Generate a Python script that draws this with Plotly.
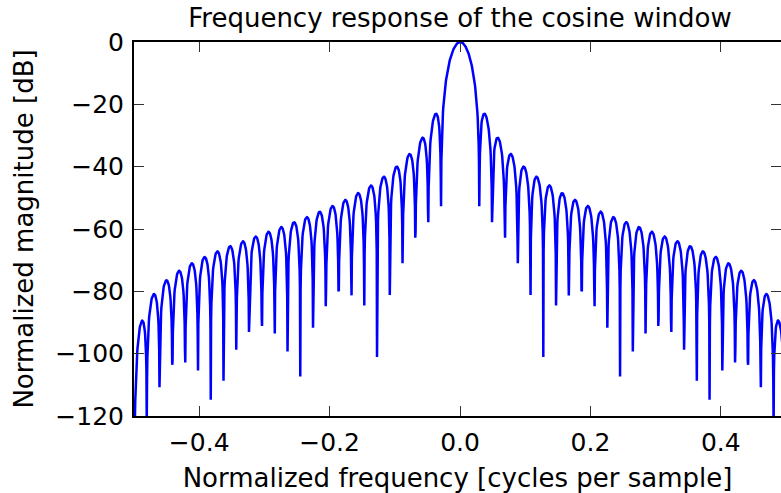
import numpy as np
import plotly.graph_objects as go

# Data: 51-tap cosine window, response via 2048-point FFT (as in the original figure)
n_taps = 51
n_fft = 2048
window_taps = np.sin(np.pi * (np.arange(n_taps) + 0.5) / n_taps)
A = np.fft.fft(window_taps, n_fft) / (n_taps / 2.0)
mag = np.abs(np.fft.fftshift(A / np.abs(A).max()))
response_db = 20 * np.log10(np.maximum(mag, 1e-12))
freq = np.linspace(-0.5, 0.5, n_fft)

x_tick_vals = [-0.4, -0.2, 0.0, 0.2, 0.4]
x_tick_text = ["\u22120.4", "\u22120.2", "0.0", "0.2", "0.4"]
y_tick_vals = [0, -20, -40, -60, -80, -100, -120]
y_tick_text = ["0", "\u221220", "\u221240", "\u221260", "\u221280", "\u2212100", "\u2212120"]

title_text = "Frequency response of the cosine window"
x_label = "Normalized frequency [cycles per sample]"
y_label = "Normalized magnitude [dB]"

FONT = "DejaVu Sans"
LABEL_SIZE = 26
TICK_SIZE = 25

fig = go.Figure()
fig.add_trace(go.Scatter(x=freq, y=response_db, mode="lines",
                         line=dict(color="#0000ff", width=2.5), hoverinfo="skip"))

fig.update_layout(
    width=781, height=493,
    margin=dict(l=134, r=0, t=42, b=77, autoexpand=False),
    paper_bgcolor="white", plot_bgcolor="white",
    showlegend=False,
    font=dict(family=FONT, size=TICK_SIZE, color="black"),
    title=dict(text=title_text, x=460 / 781, xanchor="center", y=1 - 18 / 493, yanchor="middle",
               font=dict(family=FONT, size=LABEL_SIZE, color="black")),
)
fig.update_xaxes(range=[-0.5, 0.4923], tickvals=x_tick_vals, ticktext=x_tick_text,
                 ticks="inside", ticklen=10, tickwidth=1, tickcolor="#333333",
                 showline=True, linecolor="black", linewidth=2, mirror="ticks",
                 showgrid=False, zeroline=False, automargin=False,
                 ticklabelstandoff=3,
                 tickfont=dict(family=FONT, size=TICK_SIZE),
                 title=dict(text=x_label, font=dict(family=FONT, size=LABEL_SIZE), standoff=13))
fig.update_yaxes(range=[-120, 0], tickvals=y_tick_vals, ticktext=y_tick_text,
                 ticks="inside", ticklen=10, tickwidth=1, tickcolor="#333333",
                 showline=True, linecolor="black", linewidth=2, mirror="ticks",
                 showgrid=False, zeroline=False, automargin=False,
                 ticklabelstandoff=3,
                 tickfont=dict(family=FONT, size=TICK_SIZE),
                 title=dict(text=y_label, font=dict(family=FONT, size=LABEL_SIZE), standoff=14))

fig.write_html("out.html", config={"displayModeBar": False},
               post_script="document.body.style.margin='0';")
